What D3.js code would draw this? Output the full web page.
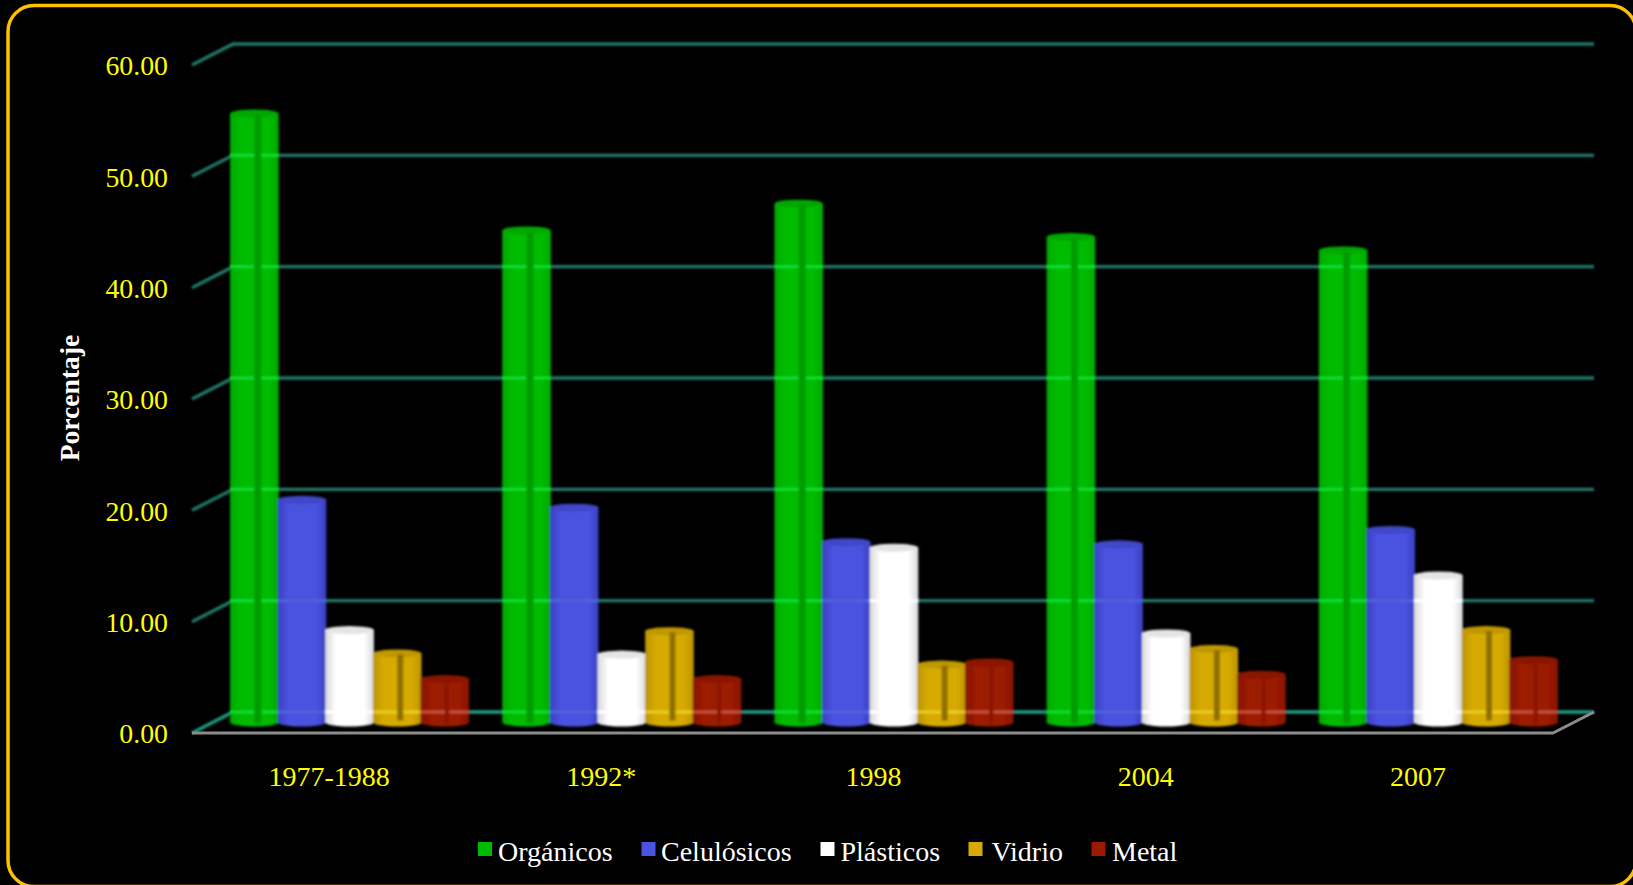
<!DOCTYPE html>
<html>
<head>
<meta charset="utf-8">
<script src="https://cdn.jsdelivr.net/npm/d3@7"></script>
<style>
  html, body { margin: 0; padding: 0; background: #000; overflow: hidden; }
  text { font-family: "Liberation Serif", serif; }
</style>
</head>
<body>
<div id="chart"></div>
<script>
// values
var categories = ["1977-1988", "1992*", "1998", "2004", "2007"];
var seriesNames = ["Orgánicos", "Celulósicos", "Plásticos", "Vidrio", "Metal"];
var organicos = [54.7, 44.2, 46.6, 43.6, 42.4];
var celulosicos = [20.0, 19.3, 16.2, 16.0, 17.3];
var plasticos = [8.3, 6.1, 15.7, 8.0, 13.2];
var vidrio = [6.2, 8.2, 5.2, 6.6, 8.3];
var metal = [3.9, 3.9, 5.4, 4.3, 5.6];
var seriesValues = [organicos, celulosicos, plasticos, vidrio, metal];
var yTicks = [0, 10, 20, 30, 40, 50, 60];

// style of each series, same order as seriesNames
var bodyColors = ["#00bc00", "#4a52e0", "#ffffff", "#d6aa00", "#9c1a02"];
var edgeColors = ["#00a800", "#3a40c0", "#d8d8d8", "#bc9400", "#861600"];
var topColors = ["#00a800", "#3f47c8", "#e4e4e4", "#c09800", "#8a1600"];
var seamColors = ["#009c00", null, null, "#8f7000", "#8a1703"];
var seamWidths = [7, 0, 0, 6, 4];
var gridTints = ["#10dc30", "#4f62dc", "#ffffff", "#eccc20", "#c8503c"];
var legendX = [478, 641.5, 820.5, 968.5, 1091.5];
var legendTextX = [498, 661, 840.5, 991.5, 1112];

var svgWidth = 1633;
var svgHeight = 885;

// front plane of the 3d box, the back wall is shifted by depth
var front = { left: 192, right: 1553, bottom: 733 };
var depth = { x: 41, y: -21 };

var svg = d3.select("#chart")
    .append("svg")
    .attr("width", svgWidth)
    .attr("height", svgHeight)
    .style("display", "block");

var defs = svg.append("defs");

var blur = defs.append("filter")
    .attr("id", "soft")
    .attr("x", "-10%").attr("y", "-10%")
    .attr("width", "120%").attr("height", "120%");
blur.append("feGaussianBlur").attr("stdDeviation", 0.8);

seriesNames.forEach((name, i) => {
    var grad = defs.append("linearGradient")
        .attr("id", "cyl" + i)
        .attr("x1", 0).attr("x2", 1).attr("y1", 0).attr("y2", 0);
    grad.append("stop").attr("offset", "0%").attr("stop-color", edgeColors[i]);
    grad.append("stop").attr("offset", "22%").attr("stop-color", bodyColors[i]);
    grad.append("stop").attr("offset", "80%").attr("stop-color", bodyColors[i]);
    grad.append("stop").attr("offset", "100%").attr("stop-color", edgeColors[i]);
});

svg.append("rect")
    .attr("width", svgWidth)
    .attr("height", svgHeight)
    .attr("fill", "#000");

// frame runs past the right and bottom of the window
svg.append("rect")
    .attr("x", 8)
    .attr("y", 5.5)
    .attr("width", 1628)
    .attr("height", 881)
    .attr("rx", 26)
    .attr("fill", "none")
    .attr("stroke", "#ffc000")
    .attr("stroke-width", 3.5);

// scales
var yScale = d3.scaleLinear()
    .domain([0, 60])
    .range([front.bottom, front.bottom - 668]);

var xScale = d3.scaleBand()
    .domain(categories)
    .range([front.left, front.right])
    .paddingInner(0.125)
    .paddingOuter(0.0625);

var xSub = d3.scaleBand()
    .domain(seriesNames)
    .range([0, xScale.bandwidth()]);

// gridlines: short slanted piece on the side wall, long one on the back wall
var gridLine = v => d3.line()([
    [front.left, yScale(v)],
    [front.left + depth.x, yScale(v) + depth.y],
    [front.right + depth.x, yScale(v) + depth.y]
]);

svg.append("g")
    .attr("filter", "url(#soft)")
    .selectAll("path")
    .data(yTicks)
    .enter()
    .append("path")
    .attr("d", gridLine)
    .attr("fill", "none")
    .attr("stroke", d => d == 0 ? "#1f9c84" : "#24786a")
    .attr("stroke-width", 3.4);

// floor edges
var floor = d3.line()([
    [front.left, front.bottom],
    [front.right, front.bottom],
    [front.right + depth.x, front.bottom + depth.y]
]);
svg.append("path")
    .attr("d", floor)
    .attr("fill", "none")
    .attr("stroke", "#8c8c8c")
    .attr("stroke-width", 3);

// bars, one cylinder per value
var cx = (c, s) => xScale(c) + depth.x / 2 + 1 + xSub(s) + xSub.bandwidth() / 2;
var yBar = v => yScale(v) + depth.y / 2;
var r = xSub.bandwidth() / 2 + 0.5;
var ry = 4;

var barsGroup = svg.append("g").attr("filter", "url(#soft)");

categories.forEach((cat, c) => {
    seriesNames.forEach((name, s) => {
        var v = seriesValues[s][c];
        var x = cx(cat, name);
        var yTop = yBar(v);
        var yBase = yBar(0);
        var g = barsGroup.append("g");

        g.append("path")
            .attr("d", `M${x - r},${yTop}L${x - r},${yBase}A${r},${ry} 0 0 0 ${x + r},${yBase}L${x + r},${yTop}Z`)
            .attr("fill", `url(#cyl${s})`);

        g.append("ellipse")
            .attr("cx", x)
            .attr("cy", yTop)
            .attr("rx", r)
            .attr("ry", ry)
            .attr("fill", topColors[s]);

        // the grid shows faintly through the bars
        g.selectAll("line")
            .data(yTicks.filter(t => yScale(t) + depth.y > yTop))
            .enter()
            .append("line")
            .attr("x1", x - r)
            .attr("x2", x + r)
            .attr("y1", t => yScale(t) + depth.y)
            .attr("y2", t => yScale(t) + depth.y)
            .attr("stroke", gridTints[s])
            .attr("stroke-width", 3);

        if (seamColors[s]) {
            g.append("rect")
                .attr("x", x)
                .attr("y", yTop + 1)
                .attr("width", seamWidths[s])
                .attr("height", yBase - yTop - 1 - (s == 3 ? 2 : -1))
                .attr("fill", seamColors[s]);
        }
    });
});

// axes
var leftAxis = d3.axisLeft(yScale)
    .tickValues(yTicks)
    .tickFormat(d => d.toFixed(2))
    .tickSize(0)
    .tickPadding(24);

var bottomAxis = d3.axisBottom(xScale)
    .tickSize(0);

var yAxisGroup = svg.append("g")
    .attr("transform", `translate(${front.left}, 0)`)
    .call(leftAxis);
yAxisGroup.select(".domain").remove();
yAxisGroup.selectAll("text")
    .attr("fill", "#ffff00")
    .attr("font-size", 27.8)
    .attr("font-family", "Liberation Serif")
    .attr("dy", "0.35em");

var xAxisGroup = svg.append("g")
    .attr("transform", `translate(1, ${front.bottom})`)
    .call(bottomAxis);
xAxisGroup.select(".domain").remove();
xAxisGroup.selectAll("text")
    .attr("fill", "#ffff00")
    .attr("font-size", 28)
    .attr("font-family", "Liberation Serif")
    .attr("y", 53)
    .attr("dy", 0);

svg.append("text")
    .attr("transform", "translate(79, 398) rotate(-90)")
    .attr("text-anchor", "middle")
    .attr("fill", "#ffffff")
    .attr("font-weight", "bold")
    .attr("font-size", 27.6)
    .text("Porcentaje");

// legend
var legend = svg.append("g").selectAll("g")
    .data(seriesNames)
    .enter()
    .append("g");

legend.append("rect")
    .attr("x", (d, i) => legendX[i])
    .attr("y", 842)
    .attr("width", 14)
    .attr("height", 14)
    .attr("fill", (d, i) => bodyColors[i]);

legend.append("text")
    .attr("x", (d, i) => legendTextX[i])
    .attr("y", 861)
    .attr("fill", "#ffffff")
    .attr("font-size", 28)
    .text(d => d);
</script>
</body>
</html>
